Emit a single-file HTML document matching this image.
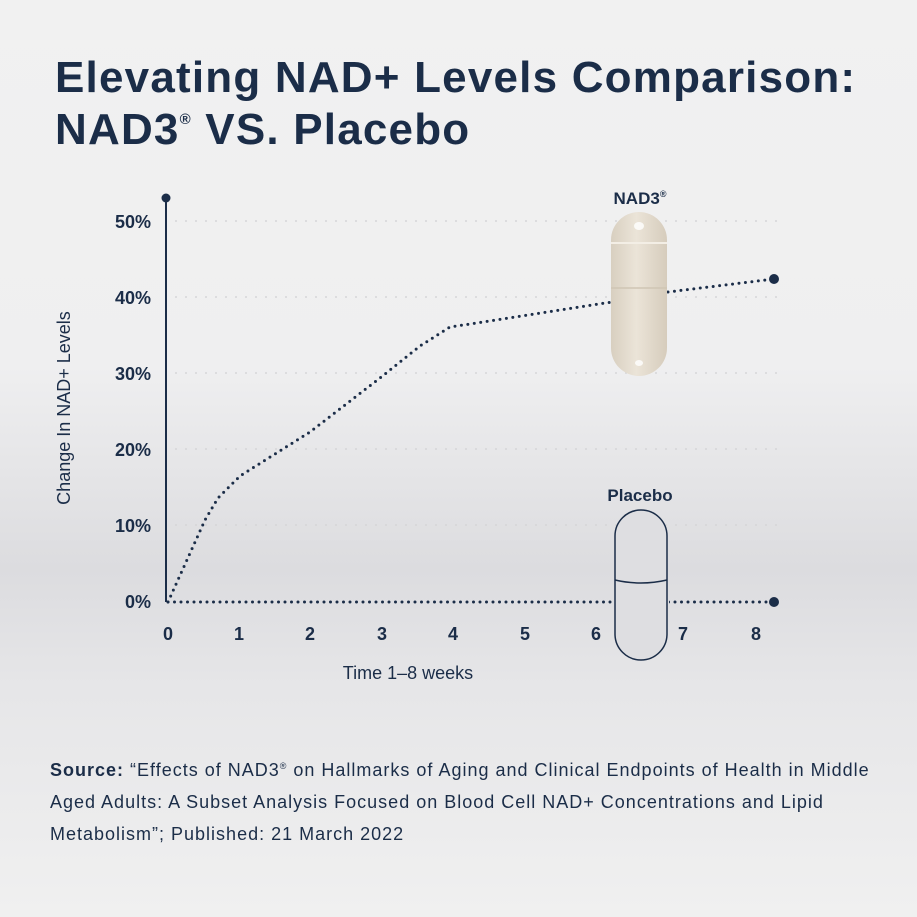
<!DOCTYPE html>
<html><head><meta charset="utf-8"><style>
body{margin:0}
#c{width:917px;height:917px;position:relative;overflow:hidden;font-family:"Liberation Sans",sans-serif;color:#1b2d48;
background:linear-gradient(#f1f1f1 0%,#efeff0 40%,#dcdcdf 62%,#e6e6e8 75%,#f0f0f0 100%)}
h1{position:absolute;left:55px;top:52px;margin:0;font-size:44px;line-height:52px;font-weight:bold;letter-spacing:1.2px}
h1 sup{font-size:15px;line-height:0;vertical-align:20px}
.src{position:absolute;left:50px;top:750px;font-size:18px;line-height:32px;width:900px;white-space:nowrap;letter-spacing:1px;color:#1b2d48}
</style></head><body><div id="c">
<h1>Elevating NAD+ Levels Comparison:<br>NAD3<sup>®</sup> VS. Placebo</h1>
<svg width="917" height="917" style="position:absolute;left:0;top:0" font-family="Liberation Sans, sans-serif">
<g stroke="#d6d6d8" stroke-width="1.5" stroke-dasharray="2 8">
<line x1="175" y1="221" x2="780" y2="221"/><line x1="175" y1="297" x2="780" y2="297"/>
<line x1="175" y1="373" x2="780" y2="373"/><line x1="175" y1="449" x2="780" y2="449"/>
<line x1="175" y1="525" x2="780" y2="525"/></g>
<line x1="166" y1="198" x2="166" y2="602" stroke="#1b2d48" stroke-width="2"/>
<circle cx="166" cy="198" r="4.5" fill="#1b2d48"/>
<g fill="#1b2d48" font-weight="bold" font-size="18" text-anchor="end">
<text x="151" y="228">50%</text><text x="151" y="304">40%</text><text x="151" y="380">30%</text>
<text x="151" y="456">20%</text><text x="151" y="532">10%</text><text x="151" y="608">0%</text></g>
<g fill="#1b2d48" font-weight="bold" font-size="18" text-anchor="middle">
<text x="168" y="640">0</text><text x="239" y="640">1</text><text x="310" y="640">2</text><text x="382" y="640">3</text>
<text x="453" y="640">4</text><text x="525" y="640">5</text><text x="596" y="640">6</text><text x="683" y="640">7</text><text x="756" y="640">8</text></g>
<text x="408" y="679" font-size="18" text-anchor="middle" fill="#1b2d48">Time 1–8 weeks</text>
<text transform="translate(70,408) rotate(-90)" font-size="18" text-anchor="middle" fill="#1b2d48">Change In NAD+ Levels</text>
<g fill="none" stroke="#1b2d48" stroke-width="3" stroke-linecap="round" stroke-dasharray="0 6.5">
<polyline points="168,602 774,602"/>
<polyline points="168,602 205,520 218,498 240,476 310,432 380,378 420,346 450,327 470,324 612,302"/>
<polyline points="668,292 774,279"/></g>
<circle cx="774" cy="279" r="5" fill="#1b2d48"/><circle cx="774" cy="602" r="5" fill="#1b2d48"/>
<text x="640" y="204" font-size="17" font-weight="bold" text-anchor="middle" fill="#1b2d48">NAD3<tspan font-size="9" dy="-7">®</tspan></text>
<defs><linearGradient id="g" x1="0" x2="1"><stop offset="0" stop-color="#d8cfc0"/><stop offset=".45" stop-color="#ebe4d8"/><stop offset="1" stop-color="#d6ccbc"/></linearGradient></defs>
<rect x="611" y="212" width="56" height="164" rx="28" fill="url(#g)"/>
<line x1="611" y1="243" x2="667" y2="243" stroke="#f3eee5" stroke-width="2"/>
<line x1="611" y1="288" x2="667" y2="288" stroke="#cfc5b4" stroke-width="1.5"/>
<ellipse cx="639" cy="226" rx="5" ry="4" fill="#fff" opacity=".8"/>
<ellipse cx="639" cy="363" rx="4" ry="3" fill="#fff" opacity=".8"/>
<text x="640" y="501" font-size="17" font-weight="bold" text-anchor="middle" fill="#1b2d48">Placebo</text>
<rect x="613" y="595" width="56" height="14" fill="#dedee1"/>
<rect x="615" y="510" width="52" height="150" rx="26" fill="#dedee1" stroke="#1b2d48" stroke-width="1.5"/>
<path d="M615 580 Q641 586 667 580" fill="none" stroke="#1b2d48" stroke-width="1.5"/>
</svg>
<div class="src"><b>Source:</b> “Effects of NAD3<sup style="font-size:9px">®</sup> on Hallmarks of Aging and Clinical Endpoints of Health in Middle<br>Aged Adults: A Subset Analysis Focused on Blood Cell NAD+ Concentrations and Lipid<br>Metabolism”; Published: 21 March 2022</div>
</div></body></html>
